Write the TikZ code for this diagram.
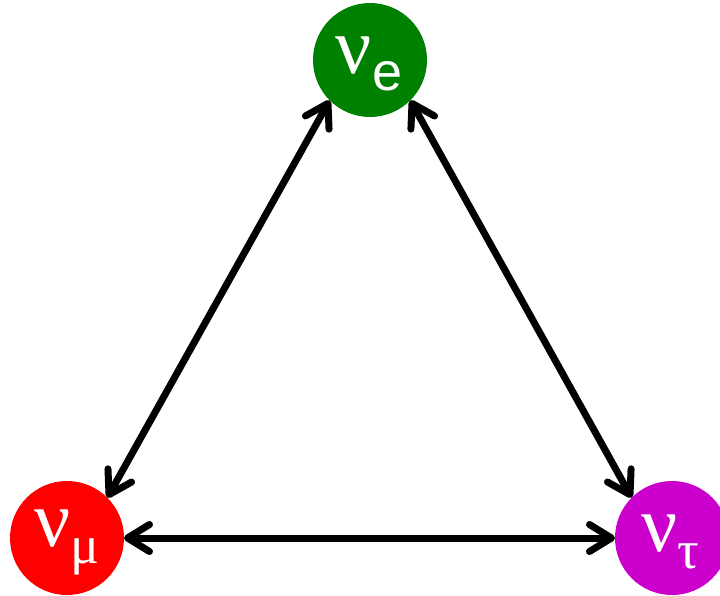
\documentclass[tikz,border=0pt]{standalone}
\usepackage{fontspec}
\setmainfont{Liberation Serif}
\newfontfamily\subsans{Liberation Sans}
\usetikzlibrary{arrows.meta}
\definecolor{nugreen}{RGB}{0,128,0}
\definecolor{nured}{RGB}{255,0,0}
\definecolor{numag}{RGB}{204,0,204}
\newcommand{\nulabel}[1]{\fontsize{80}{80}\selectfont ν\raisebox{-17pt}{\fontsize{54}{54}\selectfont #1}}
\begin{document}
\begin{tikzpicture}[x=1pt,y=-1pt,
  nucirc/.style={circle,minimum size=114pt,inner sep=0pt,outer sep=0pt,text=white},
  osc/.style={line width=7pt,{Straight Barb[length=22pt,width=27pt,round]}-{Straight Barb[length=22pt,width=27pt,round]}}]
\useasboundingbox (0,0) rectangle (720,595);
\node[nucirc,fill=nugreen] (e) at (370,60) {};
\node[nucirc,fill=nured] (m) at (67,538) {};
\node[nucirc,fill=numag] (t) at (672,538) {};
\node[text=white,inner sep=0pt] (el) at (369,64) {\nulabel{\subsans e}};
\node[text=white,inner sep=0pt] (ml) at (67,542) {\nulabel{μ}};
\node[text=white,inner sep=0pt] (tl) at (670,542) {\nulabel{τ}};
\draw[osc] (e.south west) -- (m.north east);
\draw[osc] (e.south east) -- (t.north west);
\draw[osc] (m.east) -- (t.west);
\end{tikzpicture}
\end{document}
